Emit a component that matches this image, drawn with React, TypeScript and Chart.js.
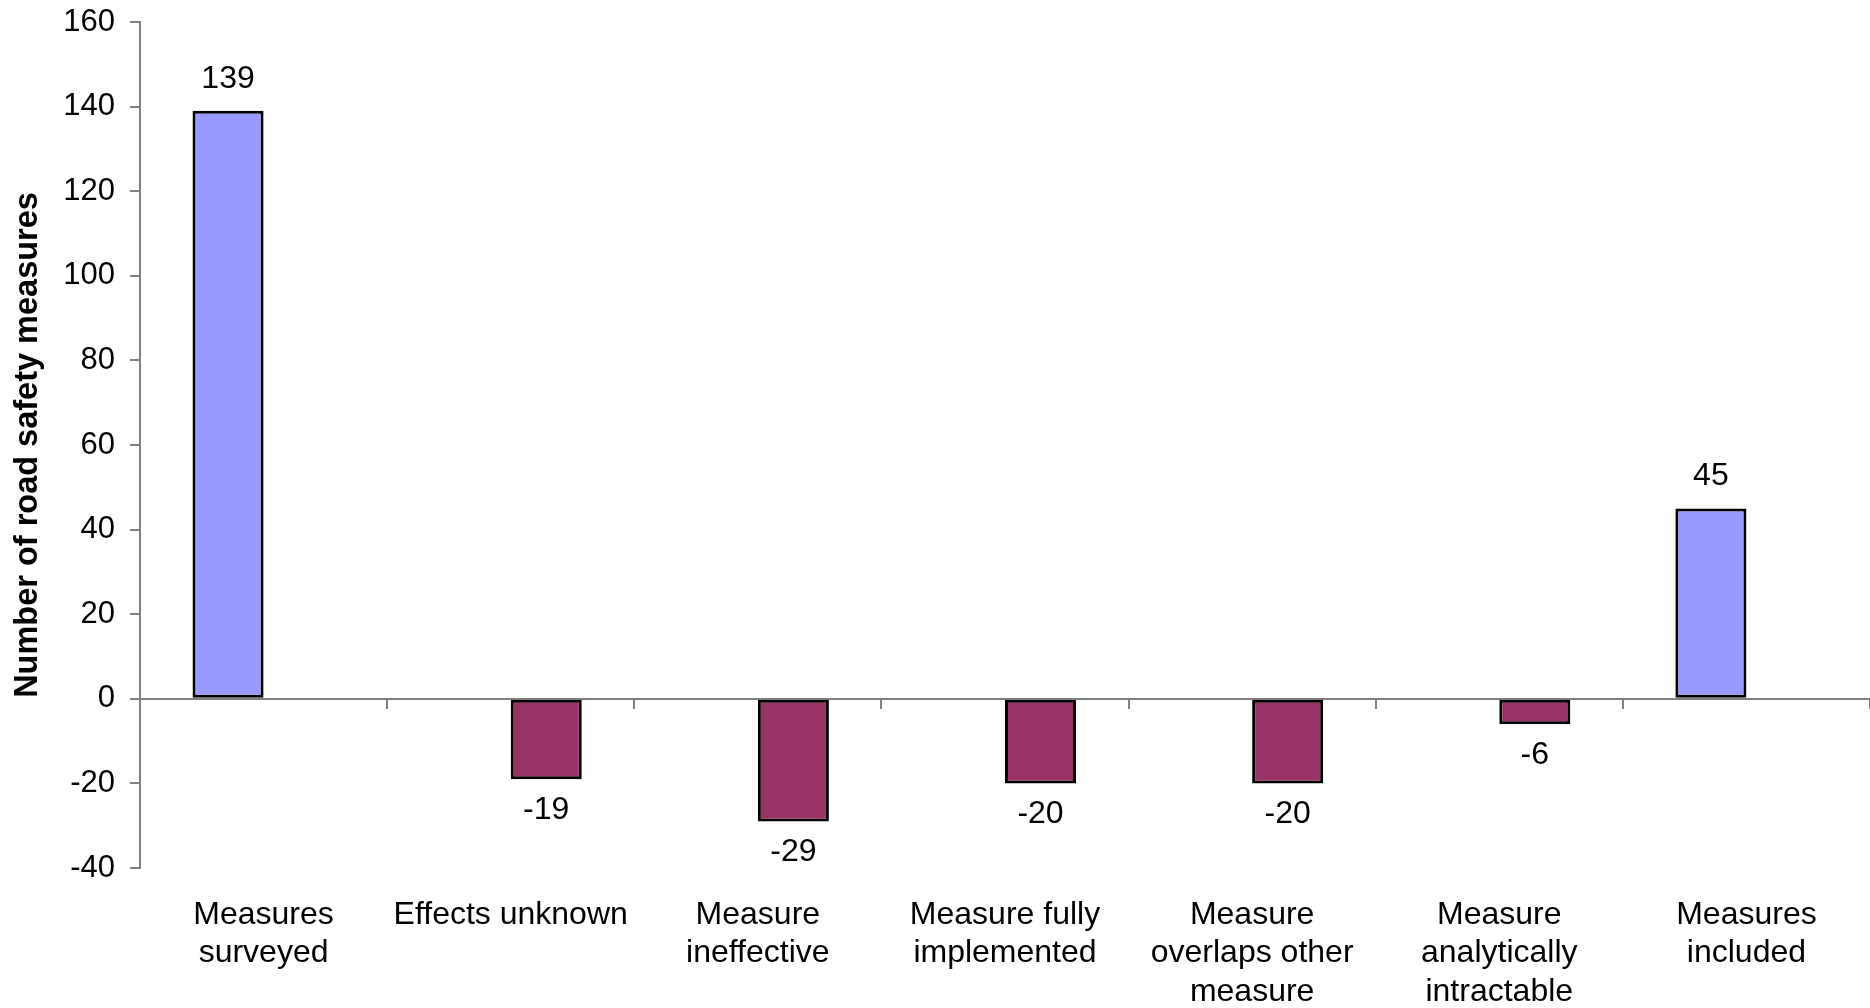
import React, { useEffect, useRef } from "react";
import { Chart, registerables } from "chart.js";

Chart.register(...registerables);

// Category labels (multi-line)
const categories: string[][] = [
  ["Measures", "surveyed"],
  ["Effects unknown"],
  ["Measure", "ineffective"],
  ["Measure fully", "implemented"],
  ["Measure", "overlaps other", "measure"],
  ["Measure", "analytically", "intractable"],
  ["Measures", "included"],
];

// Counts of measures (positive bars)
const measureCounts: (number | null)[] = [139, null, null, null, null, null, 45];
// Measures excluded at each step (negative bars)
const exclusions: (number | null)[] = [null, -19, -29, -20, -20, -6, null];

const yMin = -40;
const yMax = 160;
const yStep = 20;

const FONT = "Arial, 'Liberation Sans', Helvetica, sans-serif";

const valueLabels = {
  id: "valueLabels",
  afterDatasetsDraw(chart: any) {
    const ctx = chart.ctx;
    ctx.save();
    ctx.font = `32px ${FONT}`;
    ctx.fillStyle = "#000000";
    ctx.textAlign = "center";
    ctx.textBaseline = "middle";
    chart.data.datasets.forEach((ds: any, di: number) => {
      const meta = chart.getDatasetMeta(di);
      meta.data.forEach((el: any, i: number) => {
        const v = ds.data[i];
        if (v === null || v === undefined) return;
        const y = v >= 0 ? el.y - 32 : el.y + 31;
        ctx.fillText(String(v), el.x, y);
      });
    });
    ctx.restore();
  },
};

export default function App() {
  const canvasRef = useRef<HTMLCanvasElement | null>(null);

  useEffect(() => {
    const canvas = canvasRef.current;
    if (!canvas) return;
    const chart = new Chart(canvas, {
      type: "bar",
      data: {
        labels: categories,
        datasets: [
          {
            label: "Measures",
            data: measureCounts,
            backgroundColor: "#9999FF",
            borderColor: "#000000",
            borderWidth: 3,
            borderSkipped: false,
            categoryPercentage: 0.575,
            barPercentage: 1,
          },
          {
            label: "Excluded",
            data: exclusions,
            backgroundColor: "#993366",
            borderColor: "#000000",
            borderWidth: 3,
            borderSkipped: false,
            categoryPercentage: 0.575,
            barPercentage: 1,
          },
        ],
      },
      options: {
        responsive: false,
        animation: false,
        devicePixelRatio: 1,
        layout: { padding: { top: 22, left: 0, right: 0, bottom: 0 } },
        plugins: {
          legend: { display: false },
          tooltip: { enabled: false },
        },
        scales: {
          x: {
            type: "category",
            position: "bottom",
            offset: true,
            border: { display: false },
            grid: { display: false, drawTicks: false },
            ticks: {
              color: "#000000",
              font: { family: FONT, size: 32, lineHeight: 1.2 },
              padding: 28,
              maxRotation: 0,
              minRotation: 0,
              autoSkip: false,
            },
            afterFit: (axis: any) => {
              axis.height = 140;
            },
          },
          xZero: {
            type: "category",
            position: { y: 0 },
            offset: true,
            border: { display: true, color: "#808080", width: 2 },
            grid: {
              display: true,
              offset: true,
              drawOnChartArea: false,
              drawTicks: true,
              tickLength: 9,
              color: "#808080",
              lineWidth: 2,
            },
            ticks: { display: false },
          },
          y: {
            type: "linear",
            min: yMin,
            max: yMax,
            border: { display: true, color: "#808080", width: 2 },
            grid: {
              display: true,
              drawOnChartArea: false,
              drawTicks: true,
              tickLength: 10,
              color: "#808080",
              lineWidth: 2,
            },
            ticks: {
              stepSize: yStep,
              color: "#000000",
              font: { family: FONT, size: 31 },
              padding: 15,
            },
            title: {
              display: true,
              text: "Number of road safety measures",
              color: "#000000",
              font: { family: FONT, size: 32.5, weight: "bold", lineHeight: 1.2 },
              padding: { top: 9, bottom: 0 },
            },
            afterFit: (axis: any) => {
              axis.width = 140;
              axis.paddingTop = 0;
              axis.paddingBottom = 0;
            },
          },
        },
      },
      plugins: [valueLabels],
    } as any);
    return () => chart.destroy();
  }, []);

  return (
    <div style={{ position: "absolute", left: 0, top: 0, width: 1870, height: 1008, background: "#ffffff" }}>
      <canvas ref={canvasRef} width={1870} height={1008} />
    </div>
  );
}
